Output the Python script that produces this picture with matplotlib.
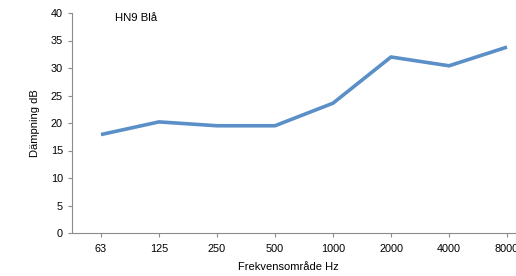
import matplotlib
matplotlib.use("Agg")
import matplotlib.pyplot as plt

plt.rcParams['font.family'] = ['Liberation Sans', 'DejaVu Sans']

categories = ["63", "125", "250", "500", "1000", "2000", "4000", "8000"]
values = [17.9, 20.2, 19.5, 19.5, 23.6, 32.0, 30.4, 33.8]
yticks = [0, 5, 10, 15, 20, 25, 30, 35, 40]

fig = plt.figure(figsize=(5.16, 2.76), dpi=100)
ax = fig.add_axes([72/516, 43/276, 464/516, 220/276])
x = list(range(len(categories)))
ax.plot(x, values, color="#5B8FC8", linewidth=2.6, solid_capstyle="butt")
ax.set_xlim(-0.5, 7.5)
ax.set_ylim(0, 40)
ax.set_xticks(x)
ax.set_xticklabels(categories)
ax.set_yticks(yticks)
for s in ["top", "right"]:
    ax.spines[s].set_visible(False)
for s in ["left", "bottom"]:
    ax.spines[s].set_color("#8c8c8c")
    ax.spines[s].set_linewidth(0.8)
ax.tick_params(axis="both", colors="#8c8c8c", labelcolor="black", labelsize=7.8, length=3, width=0.8)
ax.tick_params(axis="x", pad=5)
ax.set_ylabel("Dämpning dB", fontsize=8, labelpad=8)
ax.set_xlabel("Frekvensområde Hz", fontsize=8)
ax.xaxis.set_label_coords((288-72)/464, -(262-233)/220)
fig.text(115/516, 1-18/276, "HN9 Blå", fontsize=8.2, va="center", ha="left")

fig.savefig("out.png", dpi=100)
